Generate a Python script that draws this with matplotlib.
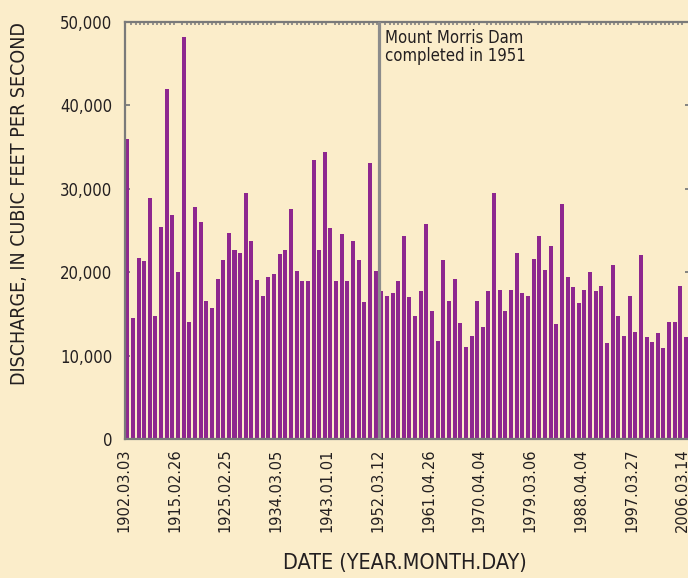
import numpy as np
import matplotlib
matplotlib.use('Agg')
import matplotlib.pyplot as plt
from matplotlib import font_manager as fm
from matplotlib.ticker import MultipleLocator, FuncFormatter
import matplotlib.transforms as mtransforms

# annual peak discharge, cubic feet per second
peaks = [36000, 14500, 21700, 21400, 28900, 14750, 25400, 41900, 26900, 20000,
         48200, 14100, 27800, 26000, 16500, 15700, 19200, 21500, 24700, 22700,
         22300, 29500, 23800, 19100, 17200, 19400, 19800, 22200, 22700, 27600,
         20200, 19000, 19000, 33400, 22700, 34400, 25300, 18900, 24600, 18900,
         23800, 21500, 16400, 33100, 20200, 17700, 17100, 17500, 19000, 24300,
         17000, 14800, 17700, 25800, 15300, 11800, 21500, 16600, 19200, 13900,
         11100, 12400, 16600, 13400, 17800, 29500, 17900, 15300, 17900, 22300,
         17500, 17100, 21600, 24300, 20300, 23200, 13800, 28200, 19400, 18200,
         16300, 17900, 20000, 17800, 18400, 11500, 20900, 14800, 12400, 17200,
         12800, 22100, 12200, 11700, 12700, 10900, 14100, 14100, 18400, 12200]

tick_dates = ['1902.03.03', '1915.02.26', '1925.02.25', '1934.03.05', '1943.01.01',
              '1952.03.12', '1961.04.26', '1970.04.04', '1979.03.06', '1988.04.04',
              '1997.03.27', '2006.03.14']
tick_every = 9
dam_last_pre = 44  # last peak before Mount Morris Dam was finished

# the original uses a condensed face - take the narrowest one we have
fonts = [(f.name, f.stretch) for f in fm.fontManager.ttflist]
if any(n == 'Liberation Sans Narrow' for n, s in fonts):
    fam, stretch, tick_fs, ylab_fs, xlab_fs, note_fs = 'Liberation Sans Narrow', 'normal', 14.0, 15.0, 16.5, 12.5
elif any(n == 'DejaVu Sans' and s == 'condensed' for n, s in fonts):
    fam, stretch, tick_fs, ylab_fs, xlab_fs, note_fs = 'DejaVu Sans', 'condensed', 11.7, 14.0, 15.5, 12.0
else:
    fam, stretch, tick_fs, ylab_fs, xlab_fs, note_fs = 'Roboto', 'normal', 12.0, 14.0, 15.0, 11.5
plt.rcParams['font.family'] = [fam, 'DejaVu Sans']
plt.rcParams['font.stretch'] = stretch

bg = '#fbedca'
bar_col = '#8e278f'
txt = '#231f20'
grey = '#7a7a7a'

fig = plt.figure(figsize=(6.88, 5.78), dpi=100, facecolor=bg)
ax = fig.add_axes([0.1812, 0.240, 0.8217, 0.7225], facecolor=bg)

x = np.arange(len(peaks))
ax.bar(x, peaks, width=0.71, color=bar_col, zorder=2)

ax.set_xlim(-0.46, 99.7)
ax.set_ylim(0, 50000)

# dam line + note
dam_x = dam_last_pre + 0.55
ax.axvline(dam_x, color='#8c8c8c', lw=2.3, zorder=3)
ax.annotate('Mount Morris Dam\ncompleted in 1951', xy=(dam_x, 50000), xycoords='data',
            xytext=(4.3, -5), textcoords='offset points', ha='left', va='top',
            fontsize=note_fs, color=txt, linespacing=1.0)

for s in ax.spines.values():
    s.set_color(grey)
    s.set_linewidth(1.6)

ax.yaxis.set_major_locator(MultipleLocator(10000))
ax.yaxis.set_major_formatter(FuncFormatter(lambda v, p: f'{int(v):,}'))
ax.tick_params(axis='y', which='major', direction='in', length=3.5, width=1.3,
               color=grey, labelsize=tick_fs + 0.3, labelcolor=txt, pad=9, right=True)

ax.set_xticks(x[::tick_every])
ax.set_xticklabels(tick_dates, rotation=90, fontsize=tick_fs, color=txt)
ax.tick_params(axis='x', which='major', length=0, pad=6.5)
shift = mtransforms.ScaledTranslation(-3.5 / 100, 0, fig.dpi_scale_trans)
for lab in ax.get_xticklabels():
    lab.set_transform(lab.get_transform() + shift)

# little comb of ticks along the top edge
ax.xaxis.set_minor_locator(MultipleLocator(0.75))
ax.tick_params(axis='x', which='minor', top=True, bottom=False, direction='in',
               length=2.5, width=1.1, color=grey)

fig.text(405 / 688, 1 - 563 / 578, 'DATE (YEAR.MONTH.DAY)', ha='center', va='center',
         fontsize=xlab_fs, color=txt)
fig.text(20 / 688, 1 - 204 / 578, 'DISCHARGE, IN CUBIC FEET PER SECOND', rotation=90,
         ha='center', va='center', fontsize=ylab_fs, color=txt)

fig.savefig('out.png', dpi=100, facecolor=bg)
